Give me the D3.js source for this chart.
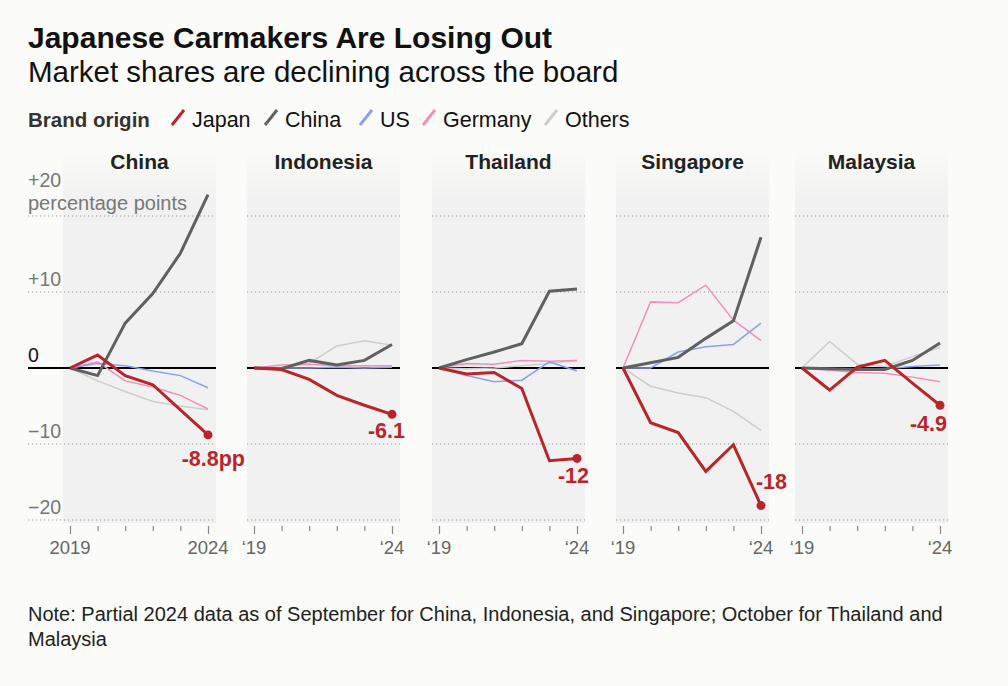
<!DOCTYPE html>
<html><head><meta charset="utf-8">
<script src="https://cdn.jsdelivr.net/npm/d3@7"></script>
<style>
html,body{margin:0;padding:0;background:#fbfbf9;}
svg{display:block;font-family:"Liberation Sans",Arial,sans-serif;}
</style></head>
<body><svg id="c" width="1008" height="686"></svg>
<script>
const years = [2019, 2020, 2021, 2022, 2023, 2024];
const markets = ["China", "Indonesia", "Thailand", "Singapore", "Malaysia"];
const brands = ["Japan", "China", "US", "Germany", "Others"];
const yTicks = [20, 10, 0, -10, -20];
const yTickLabels = ["+20", "+10", "0", "\u221210", "\u221220"];
const yUnitLabel = "percentage points";
const endLabels = ["-8.8pp", "-6.1", "-12", "-18", "-4.9"];

// change in market share (percentage points) vs 2019, per market, per brand origin
const chinaMarket = {
  Japan:   [0, 1.7, -1.0, -2.2, -5.5, -8.8],
  China:   [0, -1.0, 5.9, 9.8, 15.1, 22.8],
  US:      [0, 0.6, 0.3, -0.4, -1.0, -2.6],
  Germany: [0, 0.8, -1.7, -2.5, -3.6, -5.4],
  Others:  [0, -1.7, -3.1, -4.4, -5.0, -5.5]
};
const indonesiaMarket = {
  Japan:   [0, -0.2, -1.5, -3.6, -4.9, -6.1],
  China:   [0, -0.1, 1.0, 0.4, 1.0, 3.1],
  US:      [0, 0.0, 0.0, 0.1, 0.0, 0.1],
  Germany: [0, 0.4, 0.5, 0.3, 0.3, 0.3],
  Others:  [0, 0.1, 0.6, 2.9, 3.6, 3.0]
};
const thailandMarket = {
  Japan:   [0, -0.8, -0.6, -2.7, -12.2, -11.9],
  China:   [0, 1.1, 2.1, 3.2, 10.1, 10.4],
  US:      [0, -1.0, -1.8, -1.6, 0.8, -0.4],
  Germany: [0, 0.6, 0.5, 1.0, 0.9, 1.0],
  Others:  [0, -0.1, 0.0, 0.3, 0.6, 1.0]
};
const singaporeMarket = {
  Japan:   [0, -7.2, -8.5, -13.6, -10.1, -18.1],
  China:   [0, 0.7, 1.4, 3.9, 6.2, 17.2],
  US:      [0, 0.0, 2.1, 2.8, 3.1, 5.9],
  Germany: [0, 8.7, 8.6, 10.9, 6.3, 3.6],
  Others:  [0, -2.4, -3.3, -3.9, -5.7, -8.2]
};
const malaysiaMarket = {
  Japan:   [0, -2.9, 0.1, 1.0, -2.0, -4.9],
  China:   [0, -0.1, -0.2, -0.2, 1.0, 3.3],
  US:      [0, -0.1, -0.2, -0.1, 0.2, 0.4],
  Germany: [0, -0.3, -0.6, -0.7, -1.2, -1.8],
  Others:  [0, 3.5, 0.5, 0.2, 1.5, 2.7]
};
const marketData = [chinaMarket, indonesiaMarket, thailandMarket, singaporeMarket, malaysiaMarket];

// ---------- styling ----------
const colors = {Japan:"#b8262c", China:"#606060", US:"#8e9ff0", Germany:"#f28fbd", Others:"#cdcdcd"};
const widths = {Japan:3, China:3, US:1.5, Germany:1.5, Others:1.5};
const drawOrder = ["Others", "Germany", "US", "China", "Japan"];
const labelOffsets = [[37, 31], [13, 24], [12, 25], [26, -17], [7, 26]];

const svg = d3.select("#c");
svg.append("rect").attr("width",1008).attr("height",686).attr("fill","#fbfbf9");

const defs = svg.append("defs");
const grad = defs.append("linearGradient").attr("id","pbg").attr("x1",0).attr("y1",0).attr("x2",0).attr("y2",1);
grad.append("stop").attr("offset","0%").attr("stop-color","#fbfbf9");
grad.append("stop").attr("offset","14%").attr("stop-color","#f1f1f1");
grad.append("stop").attr("offset","100%").attr("stop-color","#f1f1f1");

// titles
svg.append("text").attr("x",28).attr("y",48).attr("font-size",30).attr("font-weight",700)
  .attr("fill","#111").text("Japanese Carmakers Are Losing Out");
svg.append("text").attr("x",28).attr("y",82).attr("font-size",29.5).attr("fill","#111")
  .text("Market shares are declining across the board");

// legend
const lg = svg.append("g").attr("transform","translate(0,127)");
lg.append("text").attr("x",28).attr("y",0).attr("font-size",20.5).attr("font-weight",700).attr("fill","#333").text("Brand origin");
const legendX = [172, 265, 360, 423, 545];
brands.forEach((b,i)=>{
  const x = legendX[i];
  lg.append("line").attr("x1",x).attr("y1",-2).attr("x2",x+12).attr("y2",-17)
    .attr("stroke",colors[b]).attr("stroke-width",3);
  lg.append("text").attr("x",x+20).attr("y",0).attr("font-size",21.5).attr("fill","#111").text(b);
});

// panels
const panelLeft = [63, 247, 432, 616, 795];
const panelW = 153;
const y = d3.scaleLinear().domain([-20, 20]).range([520, 216]);
const panelTop = 148, panelBottom = 523;

markets.forEach((m, i) => {
  const L = panelLeft[i];
  const x = d3.scaleLinear().domain([2019, 2024]).range([L + 7, L + 145]);
  const g = svg.append("g");
  g.append("rect").attr("x",L).attr("y",panelTop).attr("width",panelW).attr("height",panelBottom-panelTop).attr("fill","url(#pbg)");
  g.append("text").attr("x",L+panelW/2).attr("y",169).attr("text-anchor","middle")
    .attr("font-size",21).attr("font-weight",700).attr("fill","#222").text(m);

  const gx0 = i === 0 ? 28 : L;
  // dotted gridlines
  g.selectAll(".grid").data(yTicks.filter(t=>t!==0)).join("line")
    .attr("x1",gx0).attr("x2",L+panelW).attr("y1",d=>y(d)).attr("y2",d=>y(d))
    .attr("stroke","#9a9a9a").attr("stroke-width",1.2).attr("stroke-dasharray","1.2,2.8");

  if (i === 0) {
    yTicks.forEach((d,k)=>{
      if (d === 20) {
        g.append("text").attr("x",28).attr("y",y(d)-29).attr("font-size",19.5)
          .attr("fill","#777").text(yTickLabels[k]);
        g.append("text").attr("x",28).attr("y",y(d)-6).attr("font-size",20)
          .attr("fill","#777").text(yUnitLabel);
      } else {
        g.append("text").attr("x",28).attr("y",y(d)-6).attr("font-size",19.5)
          .attr("fill", d===0 ? "#111" : "#777").text(yTickLabels[k]);
      }
    });
  }

  // x axis ticks
  const ax = d3.axisBottom(x).tickValues(years).tickSize(0).tickFormat("");
  const axg = g.append("g").attr("transform",`translate(0,${panelBottom+3})`).call(ax);
  axg.select(".domain").remove();
  axg.selectAll(".tick line").remove();
  axg.selectAll(".tick").append("line")
    .attr("y1",0).attr("y2",(d)=> (d===2019||d===2024) ? 8 : 5)
    .attr("stroke","#888").attr("stroke-width",1.2);
  const fmt = i === 0 ? (d=>String(d)) : (d=>"\u2018" + String(d).slice(2));
  [2019, 2024].forEach(yr=>{
    g.append("text").attr("x",x(yr)).attr("y",554).attr("text-anchor","middle")
      .attr("font-size",18.5).attr("fill","#666").text(fmt(yr));
  });

  // zero line
  g.append("line").attr("x1",gx0).attr("x2",L+panelW).attr("y1",y(0)).attr("y2",y(0))
    .attr("stroke","#000").attr("stroke-width",2);

  const line = d3.line().x((d,k)=>x(years[k])).y(d=>y(d));
  const data = marketData[i];
  drawOrder.forEach(b=>{
    g.append("path").datum(data[b]).attr("d",line).attr("fill","none")
      .attr("stroke",colors[b]).attr("stroke-width",widths[b]).attr("stroke-linejoin","miter");
  });
  const last = data.Japan[data.Japan.length-1];
  g.append("circle").attr("cx",x(2024)).attr("cy",y(last)).attr("r",4.5).attr("fill",colors.Japan);
  g.append("text").attr("x",x(2024)+labelOffsets[i][0]).attr("y",y(last)+labelOffsets[i][1])
    .attr("text-anchor","end").attr("font-size",21.5).attr("font-weight",700).attr("fill",colors.Japan)
    .text(endLabels[i]);
});

// note
svg.append("text").attr("x",28).attr("y",621).attr("font-size",20).attr("fill","#222")
  .text("Note: Partial 2024 data as of September for China, Indonesia, and Singapore; October for Thailand and");
svg.append("text").attr("x",28).attr("y",646).attr("font-size",20).attr("fill","#222").text("Malaysia");
</script></body></html>
